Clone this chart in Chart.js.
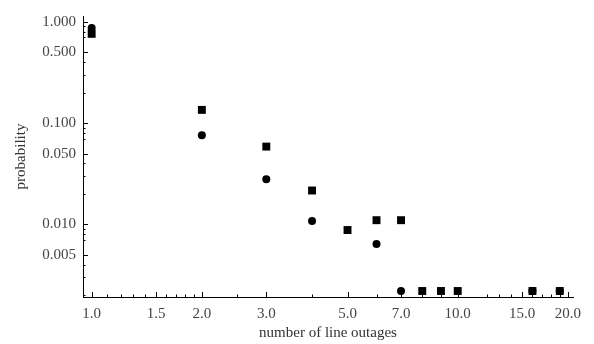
<!DOCTYPE html>
<html>
<head>
<meta charset="utf-8">
<script src="https://cdn.jsdelivr.net/npm/chart.js@4/dist/chart.umd.min.js"></script>
<style>
  html, body { margin: 0; padding: 0; background: #fff; }
  #wrap { width: 594px; height: 344px; }
</style>
</head>
<body>
<div id="wrap"><canvas id="myChart" width="594" height="344"></canvas></div>
<script>
// squares
const squareX = [1, 2, 3, 4, 5, 6, 7, 8, 9, 10, 16, 19];
const squareY = [0.76, 0.135, 0.0586, 0.0216, 0.0088, 0.011, 0.011, 0.0022, 0.0022, 0.0022, 0.0022, 0.0022];
// circles
const circleX = [1, 2, 3, 4, 6, 7, 16, 19];
const circleY = [0.87, 0.0757, 0.0279, 0.0108, 0.0064, 0.0022, 0.0022, 0.0022];

const xTicks = [1, 1.5, 2, 3, 5, 7, 10, 15, 20];
const xMinor = [1.1, 1.2, 1.3, 1.4, 1.6, 1.7, 1.8, 1.9, 2.5, 4, 6, 8, 9, 12, 13, 14, 16, 17, 18, 19];
const yTicks = [1, 0.5, 0.1, 0.05, 0.01, 0.005];
const yMinor = [0.9, 0.8, 0.7, 0.4, 0.3, 0.2, 0.09, 0.08, 0.07, 0.04, 0.03, 0.02, 0.009, 0.008, 0.007, 0.004, 0.003, 0.002];

const ctx = document.getElementById('myChart');
const font = { family: '"Liberation Serif", "DejaVu Serif", serif', size: 15 };

// Mathematica-like inward tick marks
const innerTicks = {
    id: 'innerTicks',
    afterDraw(chart) {
        const c = chart.ctx;
        const xs = chart.scales.x;
        const ys = chart.scales.y;
        const area = chart.chartArea;
        c.save();
        c.strokeStyle = '#000';
        c.lineWidth = 1;
        c.beginPath();
        xTicks.forEach(v => {
            const px = Math.round(xs.getPixelForValue(v)) + 0.5;
            c.moveTo(px, area.bottom); c.lineTo(px, area.bottom - 5);
        });
        xMinor.forEach(v => {
            const px = Math.round(xs.getPixelForValue(v)) + 0.5;
            c.moveTo(px, area.bottom); c.lineTo(px, area.bottom - 2.5);
        });
        yTicks.forEach(v => {
            const py = Math.round(ys.getPixelForValue(v)) + 0.5;
            c.moveTo(area.left, py); c.lineTo(area.left + 5, py);
        });
        yMinor.forEach(v => {
            const py = Math.round(ys.getPixelForValue(v)) + 0.5;
            c.moveTo(area.left, py); c.lineTo(area.left + 2.5, py);
        });
        c.stroke();
        c.restore();
    }
};

function toPoints(xs, ys) {
    return xs.map((x, i) => ({ x: x, y: ys[i] }));
}

new Chart(ctx, {
    type: 'scatter',
    data: {
        datasets: [{
            label: 'squares',
            data: toPoints(squareX, squareY),
            pointStyle: 'rect',
            pointRadius: 5.6,
            backgroundColor: '#000',
            borderColor: '#000',
            borderWidth: 0
        }, {
            label: 'circles',
            data: toPoints(circleX, circleY),
            pointStyle: 'circle',
            pointRadius: 4,
            backgroundColor: '#000',
            borderColor: '#000',
            borderWidth: 0
        }]
    },
    options: {
        responsive: false,
        animation: false,
        events: [],
        layout: { padding: { top: 15, right: 21, left: 0, bottom: 0 } },
        plugins: {
            legend: { display: false },
            tooltip: { enabled: false }
        },
        scales: {
            x: {
                type: 'logarithmic',
                position: 'bottom',
                min: 0.947,
                max: 20.65,
                afterBuildTicks: scale => { scale.ticks = xTicks.map(v => ({ value: v })); },
                afterFit: scale => { scale.height = 47; },
                grid: { display: false, drawTicks: false },
                border: { display: true, color: '#000', width: 1 },
                ticks: {
                    autoSkip: false,
                    maxRotation: 0,
                    padding: 8,
                    color: '#454545',
                    font: font,
                    callback: v => Number(v).toFixed(1)
                },
                title: {
                    display: true,
                    text: 'number of line outages',
                    color: '#333',
                    font: font,
                    padding: { top: 0, bottom: 2 }
                }
            },
            y: {
                type: 'logarithmic',
                min: 0.00192,
                max: 1.14,
                afterBuildTicks: scale => { scale.ticks = yTicks.map(v => ({ value: v })); },
                afterFit: scale => { scale.width = 83; },
                grid: { display: false, drawTicks: false },
                border: { display: true, color: '#000', width: 1 },
                ticks: {
                    autoSkip: false,
                    padding: 7,
                    color: '#454545',
                    font: font,
                    callback: v => Number(v).toFixed(3)
                },
                title: {
                    display: true,
                    text: 'probability',
                    color: '#333',
                    font: font,
                    padding: { top: 12, bottom: 0 }
                }
            }
        }
    },
    plugins: [innerTicks]
});
</script>
</body>
</html>
